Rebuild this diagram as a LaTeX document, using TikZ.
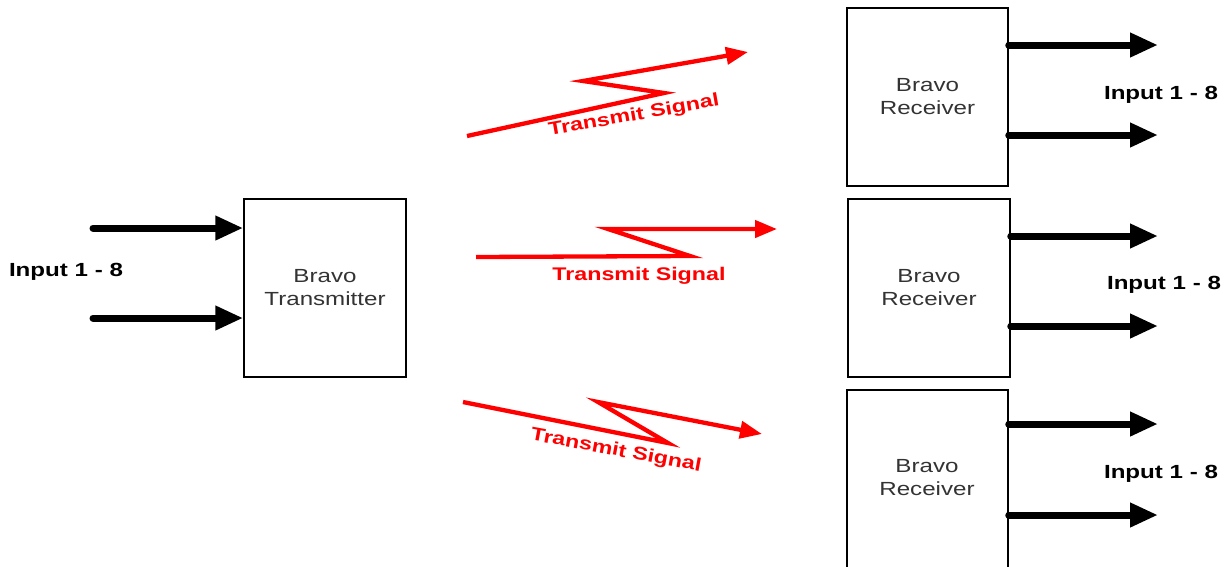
\documentclass[tikz,border=0pt]{standalone}
\usepackage{fontspec}
\setmainfont[FakeStretch=1.27]{Liberation Sans}
\usetikzlibrary{arrows.meta}
\tikzset{
  blk/.style={draw=black, line width=1.5pt, fill=white, inner sep=0pt, text=black!80, align=center, font=\fontsize{19}{23}\selectfont},
  bigarrow/.style={line width=7pt, line cap=round, -{Triangle[length=28pt,width=23pt]}},
  sig/.style={draw=red, line width=4.3pt, line join=miter, -{Triangle[length=22pt,width=17pt]}},
  siglabel/.style={text=red, font=\fontsize{18.3}{19}\selectfont\bfseries, inner sep=0pt},
  inlabel/.style={font=\fontsize{19}{20}\selectfont\bfseries, inner sep=0pt},
}
\begin{document}
\begin{tikzpicture}[x=1pt,y=-1pt]
\useasboundingbox (0,0) rectangle (1230,566);
% boxes
\node[blk, minimum width=162pt, minimum height=178pt] (tx) at (325,288) {Bravo\\Transmitter};
\node[blk, minimum width=161pt, minimum height=178pt] (r1) at (927.5,97) {Bravo\\Receiver};
\node[blk, minimum width=162pt, minimum height=178pt] (r2) at (929,288) {Bravo\\Receiver};
\node[blk, minimum width=161pt, minimum height=184pt] (r3) at (927.5,482) {};
\node[text=black!80, align=center, font=\fontsize{19}{23}\selectfont, inner sep=0pt] (r3t) at (927,477.5) {Bravo\\Receiver};
% labels
\node[inlabel] (lin) at (66,272) {Input 1 - 8};
\node[inlabel] (l1) at (1161,95) {Input 1 - 8};
\node[inlabel] (l2) at (1164,285) {Input 1 - 8};
\node[inlabel] (l3) at (1161,474) {Input 1 - 8};
% input arrows
\coordinate (i1) at (93,228);
\coordinate (i2) at (93,318);
\draw[bigarrow] (i1) -- (i1 -| tx.west);
\draw[bigarrow] (i2) -- (i2 -| tx.west);
% output arrows
\coordinate (o11) at (1158,45);
\coordinate (o12) at (1158,135);
\coordinate (o21) at (1158,236);
\coordinate (o22) at (1158,326);
\coordinate (o31) at (1158,424);
\coordinate (o32) at (1158,515);
\draw[bigarrow] (o11 -| r1.east) -- (o11);
\draw[bigarrow] (o12 -| r1.east) -- (o12);
\draw[bigarrow] (o21 -| r2.east) -- (o21);
\draw[bigarrow] (o22 -| r2.east) -- (o22);
\draw[bigarrow] (o31 -| r3.east) -- (o31);
\draw[bigarrow] (o32 -| r3.east) -- (o32);
% signals
\coordinate (s1a) at (467,136);
\coordinate (s1b) at (664,93);
\coordinate (s1c) at (583,81);
\coordinate (s1d) at (748,52);
\draw[sig] (s1a) -- (s1b) -- (s1c) -- (s1d);
\node[siglabel, rotate=10] (t1) at (634,116) {Transmit Signal};
\coordinate (s2a) at (476,257);
\coordinate (s2b) at (690,256);
\coordinate (s2c) at (608,229);
\coordinate (s2d) at (777,229);
\draw[sig] (s2a) -- (s2b) -- (s2c) -- (s2d);
\node[siglabel] (t2) at (639,276) {Transmit Signal};
\coordinate (s3a) at (463,402);
\coordinate (s3b) at (668,443);
\coordinate (s3c) at (598,402);
\coordinate (s3d) at (762,434);
\draw[sig] (s3a) -- (s3b) -- (s3c) -- (s3d);
\node[siglabel, rotate=-10.5] (t3) at (616,451) {Transmit Signal};
\end{tikzpicture}
\end{document}
